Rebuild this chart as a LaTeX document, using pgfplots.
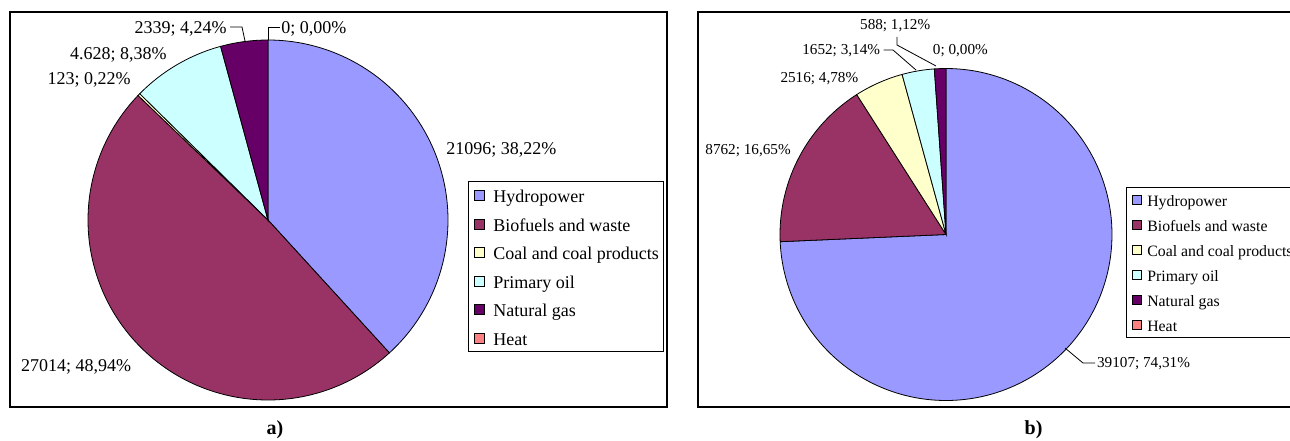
\documentclass[border=0pt]{standalone}
\usepackage{fontspec}
\setmainfont{Liberation Serif}
\usepackage{pgfplots}
\pgfplotsset{compat=1.18}
\usepgfplotslibrary{polar}
\definecolor{hydro}{HTML}{9999FF}
\definecolor{bio}{HTML}{993366}
\definecolor{coal}{HTML}{FFFFCC}
\definecolor{oil}{HTML}{CCFFFF}
\definecolor{gas}{HTML}{660066}
\definecolor{heat}{HTML}{FF8080}
% a) Hydropower 21096 (38.22%), Biofuels 27014 (48.94%), Coal 123 (0.22%),
%    Primary oil 4628 (8.38%), Natural gas 2339 (4.24%), Heat 0 (0.00%)
% b) Hydropower 39107 (74.31%), Biofuels 8762 (16.65%), Coal 2516 (4.78%),
%    Primary oil 1652 (3.14%), Natural gas 588 (1.12%), Heat 0 (0.00%)
% slices start at 90 deg and run clockwise; angle = percent * 3.6
\pgfplotsset{
  wedge/.style={fill=#1, draw=black, line width=0.4pt},
}
\begin{document}
\begin{tikzpicture}[x=1pt,y=1pt]
\useasboundingbox (0,0) rectangle (645,220);
\draw[line width=1pt] (5,16.5) rectangle (333.5,214);
\draw[line width=1pt] (349.2,16.5) rectangle (660,214);

% ---------------- a)
\begin{polaraxis}[
  at={(134pt,110pt)}, anchor=center,
  scale only axis, width=180pt, height=180pt,
  xmin=0, xmax=360, ymin=0, ymax=1,
  hide axis, clip=false,
  legend cell align=left,
  legend image code/.code={\draw[#1,draw=black,line width=0.4pt] (0pt,-2.5pt) rectangle (5pt,2.5pt);},
  legend style={at={(axis description cs:1.0556,0.6083)}, anchor=north west,
    draw=black, line width=0.5pt, fill=white,
    font=\fontsize{9}{10}\selectfont,
    inner xsep=2.5pt, inner ysep=2.2pt, row sep=4.75pt,
    nodes={inner sep=0pt, text height=8.5pt, text depth=1pt},
    /tikz/every odd column/.append style={column sep=4.5pt}},
]
\addplot[wedge=hydro, domain=-47.592:90, samples=140] {1} -- (axis cs:0,0) -- cycle;
\addlegendentry{Hydropower}
\addplot[wedge=bio, domain=-223.776:-47.592, samples=180] {1} -- (axis cs:0,0) -- cycle;
\addlegendentry{Biofuels and waste}
\addplot[wedge=coal, domain=-224.568:-223.776, samples=3] {1} -- (axis cs:0,0) -- cycle;
\addlegendentry{Coal and coal products}
\addplot[wedge=oil, domain=-254.736:-224.568, samples=40] {1} -- (axis cs:0,0) -- cycle;
\addlegendentry{Primary oil}
\addplot[wedge=gas, domain=-270:-254.736, samples=20] {1} -- (axis cs:0,0) -- cycle;
\addlegendentry{Natural gas}
\addlegendimage{fill=heat}
\addlegendentry{Heat}
\end{polaraxis}

% ---------------- b)
\begin{polaraxis}[
  at={(473pt,102.75pt)}, anchor=center,
  scale only axis, width=166pt, height=166pt,
  xmin=0, xmax=360, ymin=0, ymax=1,
  hide axis, clip=false,
  legend cell align=left,
  legend image code/.code={\draw[#1,draw=black,line width=0.4pt] (0pt,-2.1pt) rectangle (4.5pt,2.4pt);},
  legend style={at={(axis description cs:1.0422,0.6431)}, anchor=north west,
    draw=black, line width=0.5pt, fill=white,
    font=\fontsize{7.9}{9}\selectfont,
    inner xsep=2.75pt, inner ysep=2pt, row sep=4.1pt,
    nodes={inner sep=0pt, text height=7.5pt, text depth=0.9pt},
    /tikz/every odd column/.append style={column sep=2.75pt}},
]
\addplot[wedge=hydro, domain=-177.516:90, samples=240] {1} -- (axis cs:0,0) -- cycle;
\addlegendentry{Hydropower}
\addplot[wedge=bio, domain=-237.456:-177.516, samples=60] {1} -- (axis cs:0,0) -- cycle;
\addlegendentry{Biofuels and waste}
\addplot[wedge=coal, domain=-254.664:-237.456, samples=20] {1} -- (axis cs:0,0) -- cycle;
\addlegendentry{Coal and coal products}
\addplot[wedge=oil, domain=-265.968:-254.664, samples=15] {1} -- (axis cs:0,0) -- cycle;
\addlegendentry{Primary oil}
\addplot[wedge=gas, domain=-270:-265.968, samples=6] {1} -- (axis cs:0,0) -- cycle;
\addlegendentry{Natural gas}
\addlegendimage{fill=heat}
\addlegendentry{Heat}
\end{polaraxis}

% ---------------- labels a)
\begin{scope}[every node/.style={inner sep=0pt, font=\fontsize{9}{10}\selectfont}]
\node[anchor=west] at (223,145) {21096; 38,22\%};
\node[anchor=west] at (10.35,36.5) {27014; 48,94\%};
\node[anchor=east] at (65.5,180) {123; 0,22\%};
\node[anchor=east] at (83.5,192.5) {4.628; 8,38\%};
\node[anchor=east] at (113.5,205.6) {2339; 4,24\%};
\node[anchor=west] at (140.5,205.6) {0; 0,00\%};
\end{scope}
\draw[line width=0.4pt] (115,206.5) -- (121,206.5) -- (122.5,199.5);
\draw[line width=0.4pt] (134.15,200) -- (134.15,206.5) -- (140,206.5);

% ---------------- labels b)
\begin{scope}[every node/.style={inner sep=0pt, font=\fontsize{7.6}{9}\selectfont}]
\node at (447.6,207.4) {588; 1,12\%};
\node at (480.2,194.9) {0; 0,00\%};
\node[anchor=east] at (440.2,194.5) {1652; 3,14\%};
\node[anchor=east] at (429.3,180.8) {2516; 4,78\%};
\node[anchor=west] at (352.5,144.8) {8762; 16,65\%};
\node[anchor=west] at (548.35,38) {39107; 74,31\%};
\end{scope}
\draw[line width=0.4pt] (448.5,201.5) -- (448.5,197.5) -- (468,187);
\draw[line width=0.4pt] (441.75,195) -- (446.5,195) -- (458,185);
\draw[line width=0.4pt] (532.5,46) -- (541.5,38.5) -- (547.5,38.5);

\node[font=\bfseries\fontsize{10}{12}\selectfont, inner sep=0pt] at (137.5,5) {a)};
\node[font=\bfseries\fontsize{10}{12}\selectfont, inner sep=0pt] at (516.8,5) {b)};
\end{tikzpicture}
\end{document}
